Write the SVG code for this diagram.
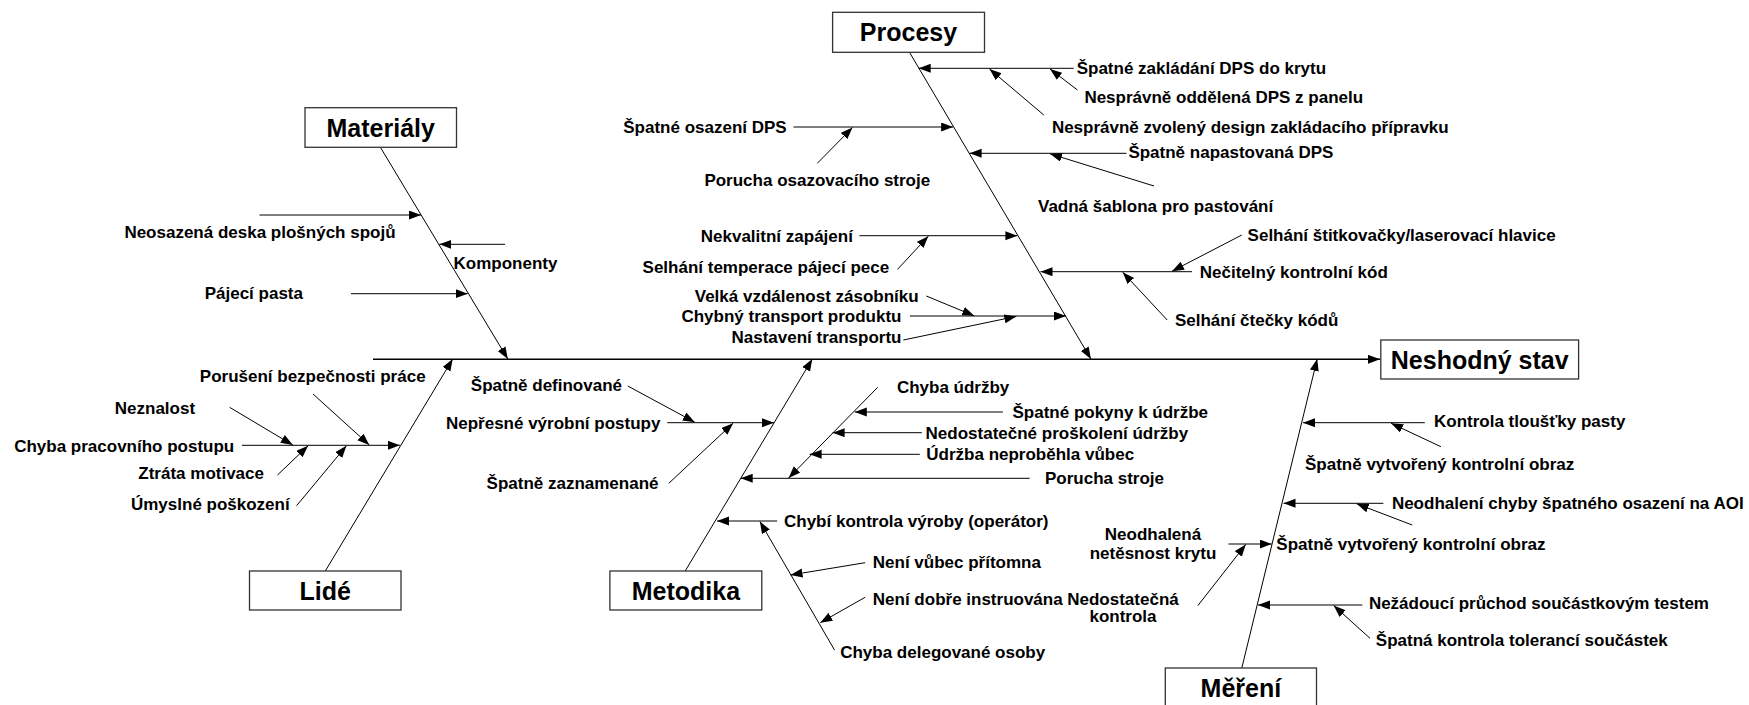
<svg xmlns="http://www.w3.org/2000/svg" width="1749" height="705" viewBox="0 0 1749 705">
  <style>
    .lbl { font-family: "Liberation Sans", Arial, sans-serif; font-weight: bold; font-size: 17px; fill: #000; }
    .end { text-anchor: end; }
    .mid { text-anchor: middle; }
    .cat { font-family: "Liberation Sans", Arial, sans-serif; font-weight: bold; font-size: 25px; fill: #000; text-anchor: middle; }
    .box { fill: #fff; stroke: #333; stroke-width: 1.3; }
    .ln { stroke: #000; stroke-width: 1; fill: none; marker-end: url(#arr); }
    .spine { stroke: #000; stroke-width: 1.6; fill: none; marker-end: url(#arr); }
  </style>
  <defs>
    <marker id="arr" markerUnits="userSpaceOnUse" markerWidth="13" markerHeight="10" refX="12" refY="4.5" orient="auto">
      <path d="M0,0 L12,4.5 L0,9 Z" fill="#000"/>
    </marker>
  </defs>
  <rect width="1749" height="705" fill="#fff"/>

  <!-- connectors: spine, category bones, cause arrows -->
  <g id="connectors">
    <line class="spine" x1="373" y1="359.3" x2="1380" y2="359.3"/>
    <line class="ln" x1="380.8" y1="148" x2="507.8" y2="359"/>
    <line class="ln" x1="909.9" y1="53" x2="1090.9" y2="359"/>
    <line class="ln" x1="325.3" y1="571" x2="452.7" y2="359"/>
    <line class="ln" x1="685.2" y1="571" x2="812.3" y2="359"/>
    <line class="ln" x1="1241.8" y1="668" x2="1317.2" y2="359"/>

    <!-- Materiály -->
    <line class="ln" x1="259.5" y1="215" x2="421" y2="215"/>
    <line class="ln" x1="505" y1="244.3" x2="439.3" y2="244.3"/>
    <line class="ln" x1="351" y1="293.7" x2="467.7" y2="293.7"/>

    <!-- Procesy -->
    <line class="ln" x1="1073.7" y1="68.3" x2="918.7" y2="68.3"/>
    <line class="ln" x1="1077.5" y1="90" x2="1050" y2="69"/>
    <line class="ln" x1="1043.8" y1="115" x2="989.5" y2="69"/>
    <line class="ln" x1="1126.5" y1="153.3" x2="969.6" y2="153.3"/>
    <line class="ln" x1="1154" y1="186" x2="1050" y2="153.8"/>
    <line class="ln" x1="793.5" y1="127" x2="953.1" y2="127"/>
    <line class="ln" x1="817.3" y1="163.3" x2="852.5" y2="127.5"/>
    <line class="ln" x1="859.4" y1="235.7" x2="1017.4" y2="235.7"/>
    <line class="ln" x1="897.6" y1="269.3" x2="928.3" y2="236.2"/>
    <line class="ln" x1="926.3" y1="296" x2="974.2" y2="315.8"/>
    <line class="ln" x1="909.9" y1="316" x2="1066" y2="316"/>
    <line class="ln" x1="903.4" y1="340" x2="1016.3" y2="316.4"/>
    <line class="ln" x1="1192" y1="271.7" x2="1040.5" y2="271.7"/>
    <line class="ln" x1="1241.8" y1="235" x2="1172" y2="271.2"/>
    <line class="ln" x1="1167.2" y1="320" x2="1122.7" y2="272.2"/>

    <!-- Lidé -->
    <line class="ln" x1="241.9" y1="445.3" x2="399.9" y2="445.3"/>
    <line class="ln" x1="229.6" y1="407.3" x2="292.8" y2="445"/>
    <line class="ln" x1="313" y1="394" x2="369.3" y2="445"/>
    <line class="ln" x1="277.5" y1="475" x2="308.1" y2="445.8"/>
    <line class="ln" x1="296.6" y1="505.7" x2="346.4" y2="445.8"/>

    <!-- Metodika -->
    <line class="ln" x1="627.8" y1="386" x2="694.8" y2="422.2"/>
    <line class="ln" x1="667.3" y1="422.7" x2="774" y2="422.7"/>
    <line class="ln" x1="668.8" y1="483.3" x2="733.1" y2="423.2"/>
    <line class="ln" x1="877.7" y1="387.3" x2="788.6" y2="478"/>
    <line class="ln" x1="1002.9" y1="412" x2="854.8" y2="412"/>
    <line class="ln" x1="921.8" y1="432.7" x2="832.6" y2="432.7"/>
    <line class="ln" x1="919.8" y1="454.3" x2="809.6" y2="454.3"/>
    <line class="ln" x1="1029.7" y1="478.3" x2="740.7" y2="478.3"/>
    <line class="ln" x1="777.1" y1="521" x2="717" y2="521"/>
    <line class="ln" x1="834.5" y1="650" x2="759.9" y2="521.5"/>
    <line class="ln" x1="865.1" y1="562.7" x2="790.5" y2="575"/>
    <line class="ln" x1="865.1" y1="597.3" x2="820.3" y2="622.7"/>

    <!-- Měření -->
    <line class="ln" x1="1424.8" y1="422.7" x2="1303" y2="422.7"/>
    <line class="ln" x1="1440.9" y1="446.7" x2="1391.1" y2="423.3"/>
    <line class="ln" x1="1383.4" y1="503.3" x2="1283.5" y2="503.3"/>
    <line class="ln" x1="1412.2" y1="525" x2="1356.7" y2="503.8"/>
    <line class="ln" x1="1228.5" y1="544" x2="1271.7" y2="544"/>
    <line class="ln" x1="1197.8" y1="605.7" x2="1245.7" y2="544.5"/>
    <line class="ln" x1="1362.4" y1="605" x2="1258" y2="605"/>
    <line class="ln" x1="1370" y1="638.3" x2="1333.7" y2="605.5"/>
  </g>

  <!-- effect -->
  <g id="neshodny-stav">
    <rect class="box" x="1380.8" y="340" width="197.8" height="39"/>
    <text class="cat" x="1479.7" y="368.5">Neshodný stav</text>
  </g>

  <!-- categories -->
  <g id="materialy">
    <rect class="box" x="305" y="107.7" width="151.5" height="39.6"/>
    <text class="cat" x="380.75" y="136.5">Materiály</text>
  </g>
  <g id="procesy">
    <rect class="box" x="832.6" y="12.3" width="151.9" height="40"/>
    <text class="cat" x="908.5" y="41.3">Procesy</text>
  </g>
  <g id="lide">
    <rect class="box" x="249.5" y="571" width="151.5" height="39"/>
    <text class="cat" x="325.3" y="599.5">Lidé</text>
  </g>
  <g id="metodika">
    <rect class="box" x="609.9" y="571" width="151.9" height="39"/>
    <text class="cat" x="685.9" y="599.5">Metodika</text>
  </g>
  <g id="mereni">
    <rect class="box" x="1165.3" y="668" width="151.2" height="39"/>
    <text class="cat" x="1240.9" y="696.5">Měření</text>
  </g>

  <!-- causes -->
  <g id="causes-materialy" class="lbl">
    <text x="124.4" y="238">Neosazená deska plošných spojů</text>
    <text x="453.5" y="268.5">Komponenty</text>
    <text x="204.7" y="299">Pájecí pasta</text>
  </g>

  <g id="causes-procesy" class="lbl">
    <text x="1076.7" y="74">Špatné zakládání DPS do krytu</text>
    <text x="1084.4" y="102.5">Nesprávně oddělená DPS z panelu</text>
    <text x="1051.9" y="132.5">Nesprávně zvolený design zakládacího přípravku</text>
    <text x="1128.4" y="157.5">Špatně napastovaná DPS</text>
    <text x="1038" y="211.5">Vadná šablona pro pastování</text>
    <text class="end" x="786.7" y="132.5">Špatné osazení DPS</text>
    <text x="704.4" y="186">Porucha osazovacího stroje</text>
    <text class="end" x="852.9" y="241.5">Nekvalitní zapájení</text>
    <text class="end" x="889.2" y="272.5">Selhání temperace pájecí pece</text>
    <text class="end" x="918.7" y="301.5">Velká vzdálenost zásobníku</text>
    <text class="end" x="901.5" y="322">Chybný transport produktu</text>
    <text class="end" x="901.5" y="342.5">Nastavení transportu</text>
    <text x="1247.6" y="241">Selhání štitkovačky/laserovací hlavice</text>
    <text x="1199.8" y="277.5">Nečitelný kontrolní kód</text>
    <text x="1174.9" y="326">Selhání čtečky kódů</text>
  </g>

  <g id="causes-lide" class="lbl">
    <text x="199.8" y="382">Porušení bezpečnosti práce</text>
    <text x="114.8" y="414">Neznalost</text>
    <text x="14.2" y="452">Chyba pracovního postupu</text>
    <text class="end" x="264" y="479">Ztráta motivace</text>
    <text class="end" x="289.7" y="510">Úmyslné poškození</text>
  </g>

  <g id="causes-metodika" class="lbl">
    <text class="end" x="622" y="391">Špatně definované</text>
    <text class="end" x="660.4" y="428.5">Nepřesné výrobní postupy</text>
    <text class="end" x="658.5" y="489">Špatně zaznamenané</text>
    <text x="896.9" y="392.5">Chyba údržby</text>
    <text x="1012.5" y="417.5">Špatné pokyny k údržbe</text>
    <text x="925.6" y="438.5">Nedostatečné proškolení údržby</text>
    <text x="926.3" y="460">Údržba neproběhla vůbec</text>
    <text x="1045" y="484">Porucha stroje</text>
    <text x="784" y="527">Chybí kontrola výroby (operátor)</text>
    <text x="872.8" y="567.5">Není vůbec přítomna</text>
    <text x="872.8" y="605">Není dobře instruována</text>
    <text x="840.2" y="657.5">Chyba delegované osoby</text>
  </g>

  <g id="causes-mereni" class="lbl">
    <text x="1434" y="427">Kontrola tloušťky pasty</text>
    <text x="1305" y="470">Špatně vytvořený kontrolní obraz</text>
    <text x="1391.9" y="509">Neodhalení chyby špatného osazení na AOI</text>
    <text x="1276.3" y="550">Špatně vytvořený kontrolní obraz</text>
    <text class="mid" x="1153" y="540">Neodhalená</text>
    <text class="mid" x="1153" y="559">netěsnost krytu</text>
    <text class="mid" x="1123" y="605">Nedostatečná</text>
    <text class="mid" x="1123" y="621.5">kontrola</text>
    <text x="1368.9" y="609">Nežádoucí průchod součástkovým testem</text>
    <text x="1375.8" y="646">Špatná kontrola tolerancí součástek</text>
  </g>
</svg>
